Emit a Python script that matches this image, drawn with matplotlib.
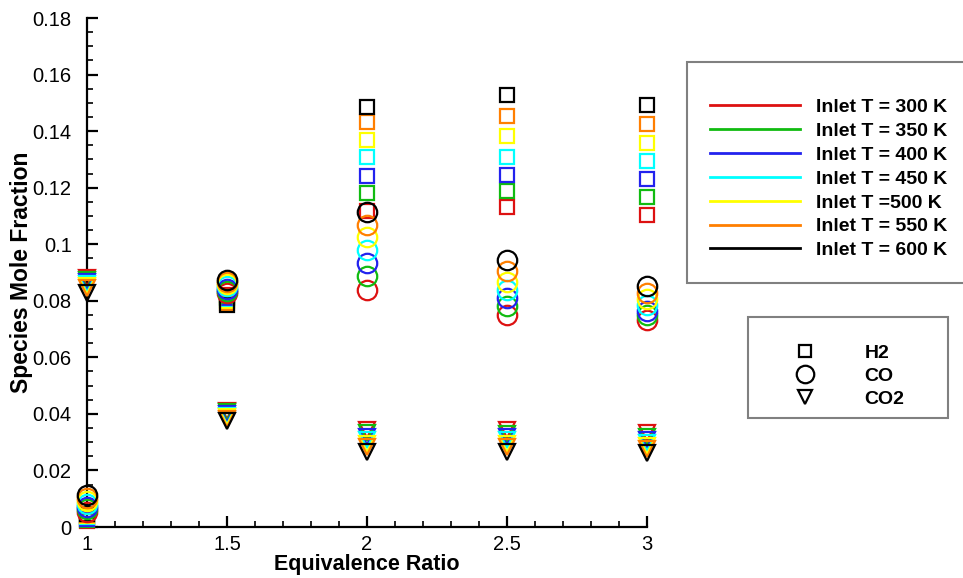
import matplotlib
matplotlib.use('Agg')
import matplotlib.pyplot as plt
from matplotlib.lines import Line2D
from matplotlib.ticker import MultipleLocator

plt.rcParams['font.family'] = ['Liberation Sans', 'DejaVu Sans']

# ---------------- data ----------------
phi = [1.0, 1.5, 2.0, 2.5, 3.0]
series_labels = ['Inlet T = 300 K', 'Inlet T = 350 K', 'Inlet T = 400 K',
                 'Inlet T = 450 K', 'Inlet T =500 K', 'Inlet T = 550 K',
                 'Inlet T = 600 K']
colors = ['#dd1111', '#11bb11', '#2222ee', '#00ffff', '#ffff00', '#ff7f00', '#000000']

# rows: 300, 350, 400, 450, 500, 550, 600 K ; columns: phi
h2 = [
    [0.0022, 0.0821, 0.1119, 0.1130, 0.1104],
    [0.0026, 0.0815, 0.1180, 0.1189, 0.1167],
    [0.0030, 0.0810, 0.1242, 0.1246, 0.1231],
    [0.0034, 0.0804, 0.1307, 0.1310, 0.1293],
    [0.0038, 0.0798, 0.1369, 0.1382, 0.1358],
    [0.0042, 0.0792, 0.1431, 0.1452, 0.1425],
    [0.0046, 0.0786, 0.1484, 0.1527, 0.1494],
]
co = [
    [0.0052, 0.0829, 0.0839, 0.0750, 0.0733],
    [0.0062, 0.0836, 0.0886, 0.0780, 0.0749],
    [0.0072, 0.0843, 0.0933, 0.0810, 0.0765],
    [0.0082, 0.0851, 0.0981, 0.0839, 0.0785],
    [0.0092, 0.0858, 0.1025, 0.0868, 0.0805],
    [0.0103, 0.0866, 0.1069, 0.0904, 0.0826],
    [0.0115, 0.0873, 0.1113, 0.0945, 0.0854],
]
co2 = [
    [0.0880, 0.0412, 0.0343, 0.0342, 0.0332],
    [0.0873, 0.0406, 0.0331, 0.0330, 0.0320],
    [0.0866, 0.0400, 0.0319, 0.0318, 0.0309],
    [0.0858, 0.0394, 0.0307, 0.0306, 0.0298],
    [0.0851, 0.0388, 0.0295, 0.0294, 0.0287],
    [0.0844, 0.0382, 0.0283, 0.0282, 0.0276],
    [0.0826, 0.0375, 0.0265, 0.0265, 0.0262],
]
species_labels = ['H2', 'CO', 'CO2']
species_markers = ['s', 'o', 'v']
species_sizes = [10.0, 14.0, 11.0]

xtick_vals = [1, 1.5, 2, 2.5, 3]
xtick_labels = ['1', '1.5', '2', '2.5', '3']
ytick_vals = [0, 0.02, 0.04, 0.06, 0.08, 0.1, 0.12, 0.14, 0.16, 0.18]
ytick_labels = ['0', '0.02', '0.04', '0.06', '0.08', '0.1', '0.12',
                '0.14', '0.16', '0.18']

# ---------------- figure ----------------
fig = plt.figure(figsize=(9.63, 5.78), dpi=100)
ax = fig.add_axes([0.0903, 0.0882, 0.5815, 0.8806])

for data, mk, ms in zip([h2, co, co2], species_markers, species_sizes):
    for row, c in zip(data, colors):
        ax.plot(phi, row, linestyle='none', marker=mk, ms=ms,
                markerfacecolor='none', markeredgecolor=c,
                markeredgewidth=1.6, clip_on=False, zorder=3)

ax.set_xlim(1, 3)
ax.set_ylim(0, 0.18)
ax.set_xticks(xtick_vals)
ax.set_xticklabels(xtick_labels)
ax.set_yticks(ytick_vals)
ax.set_yticklabels(ytick_labels)
ax.xaxis.set_minor_locator(MultipleLocator(0.1))
ax.yaxis.set_minor_locator(MultipleLocator(0.005))

for s in ['top', 'right']:
    ax.spines[s].set_visible(False)
for s in ['left', 'bottom']:
    ax.spines[s].set_linewidth(1.6)

ax.tick_params(which='major', direction='in', length=8, width=1.6,
               labelsize=14.5)
ax.tick_params(axis='y', which='major', pad=11)
ax.tick_params(axis='x', which='major', pad=6)
ax.tick_params(which='minor', direction='in', length=4, width=1.2)

ax.set_xlabel('Equivalence Ratio', fontsize=15.5, fontweight='bold', labelpad=0)
ax.set_ylabel('Species Mole Fraction', fontsize=16.5, fontweight='bold', labelpad=0)

# legend 1: temperatures
h_temp = [Line2D([], [], color=c, lw=2) for c in colors]
leg1 = fig.legend(h_temp, series_labels, loc='upper left',
                  bbox_to_anchor=(687 / 963, 1 - 62 / 578),
                  borderaxespad=0,
                  prop={'weight': 'bold', 'size': 14},
                  handlelength=4.6, handletextpad=0.85, labelspacing=0.32,
                  borderpad=1.2, fancybox=False, framealpha=1,
                  edgecolor='#808080', title=' ',
                  title_fontproperties={'size': 6})
leg1.get_frame().set_linewidth(1.5)

# legend 2: species
h_sp = [Line2D([], [], linestyle='none', marker=m, ms=s * 0.9,
               markerfacecolor='none', markeredgecolor='black',
               markeredgewidth=1.6)
        for m, s in zip(species_markers, species_sizes)]
leg2 = fig.legend(h_sp, species_labels, loc='upper left',
                  bbox_to_anchor=(748 / 963, 1 - 317 / 578, 200 / 963, 0.0),
                  mode='expand', borderaxespad=0,
                  prop={'weight': 'bold', 'size': 14},
                  handlelength=4.9, handletextpad=0.6, labelspacing=0.28,
                  borderpad=0.5, fancybox=False, framealpha=1,
                  edgecolor='#808080', title=' ',
                  title_fontproperties={'size': 9})
leg2.get_frame().set_linewidth(1.5)

fig.savefig('out.png', dpi=100)
